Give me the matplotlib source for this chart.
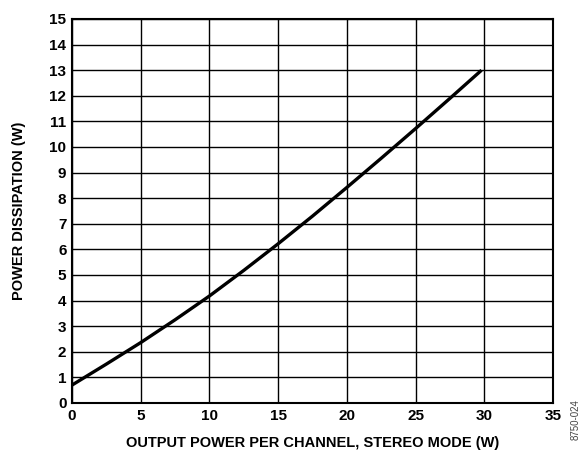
import numpy as np
import matplotlib.pyplot as plt

plt.rcParams['font.family'] = ['Liberation Sans', 'DejaVu Sans']

out_power = [0, 2.5, 5, 7.5, 10, 12.5, 15, 17.5, 20, 22.5, 25, 27.5, 29.8]
dissipation = [0.7, 1.52, 2.36, 3.25, 4.18, 5.18, 6.22, 7.3, 8.42, 9.56, 10.72, 11.9, 13.0]

xticks = [0, 5, 10, 15, 20, 25, 30, 35]
yticks = list(range(0, 16))

fig = plt.figure(figsize=(5.86, 4.54), dpi=100)
ax = fig.add_axes([72/586, 51/454, 481/586, 384/454])

ax.plot(out_power, dissipation, color='black', lw=2.4, solid_capstyle='butt')
ax.set_xlim(0, 35)
ax.set_ylim(0, 15)
ax.set_xticks(xticks)
ax.set_yticks(yticks)
ax.grid(True, color='black', lw=1.0)
ax.tick_params(length=0, labelsize=11, pad=4)
for lab in ax.get_xticklabels() + ax.get_yticklabels():
    lab.set_fontweight('bold')
for s in ax.spines.values():
    s.set_linewidth(1.5)

ax.set_xlabel("OUTPUT POWER PER CHANNEL, STEREO MODE (W)", fontsize=10.5, fontweight='bold', labelpad=10)
ax.set_ylabel("POWER DISSIPATION (W)", fontsize=10.5, fontweight='bold', labelpad=17)

fig.text(576/586, 34/454, "8750-024", rotation=90, fontsize=7, color='#444444', ha='center', va='center')

plt.savefig('out.png', dpi=100)
